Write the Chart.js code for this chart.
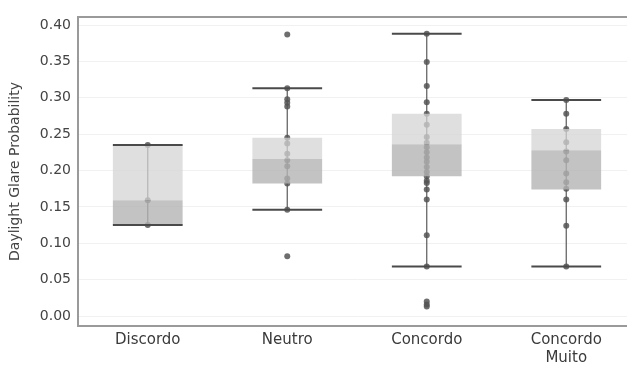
<!DOCTYPE html>
<html>
<head>
<meta charset="utf-8">
<script src="https://cdn.jsdelivr.net/npm/chart.js@4.4.1/dist/chart.umd.min.js"></script>
<style>
    html, body { margin: 0; padding: 0; background: #fff; overflow: hidden; }
    #wrap { position: relative; width: 640px; height: 365px; }
</style>
</head>
<body>
<div id="wrap"><canvas id="chart"></canvas></div>
<script>
// categories and box statistics
const categories = ['Discordo', 'Neutro', 'Concordo', 'Concordo Muito'];
const q1Values     = [0.125, 0.182, 0.192, 0.174];
const medianValues = [0.159, 0.216, 0.236, 0.228];
const q3Values     = [0.235, 0.245, 0.278, 0.257];
const whiskerLow   = [0.125, 0.146, 0.068, 0.068];
const whiskerHigh  = [0.235, 0.313, 0.388, 0.297];

// individual responses per category
const pointsDiscordo = [0.235, 0.159, 0.125];
const pointsNeutro = [0.387, 0.313, 0.298, 0.293, 0.288, 0.245, 0.237, 0.223, 0.214, 0.206, 0.189, 0.182, 0.146, 0.082];
const pointsConcordo = [0.388, 0.349, 0.316, 0.294, 0.278, 0.263, 0.246, 0.238, 0.232, 0.225, 0.218, 0.212, 0.205,
    0.198, 0.192, 0.186, 0.183, 0.174, 0.160, 0.111, 0.068, 0.020, 0.016, 0.013];
const pointsMuito = [0.297, 0.278, 0.257, 0.239, 0.226, 0.214, 0.196, 0.184, 0.175, 0.160, 0.124, 0.068];

const yTicks = [0, 0.05, 0.10, 0.15, 0.20, 0.25, 0.30, 0.35, 0.40];

const labels = categories.map(c => c === 'Concordo Muito' ? ['Concordo', 'Muito'] : c);

// scatter x must be the label itself, category scale ignores numeric x
const allPoints = [pointsDiscordo, pointsNeutro, pointsConcordo, pointsMuito];
const scatterData = [];
allPoints.forEach((arr, i) => arr.forEach(v => scatterData.push({ x: labels[i], y: v })));

// whiskers: vertical stem under boxes, caps over them
const whiskerPlugin = {
    id: 'whiskers',
    beforeDatasetsDraw(chart) {
        const { ctx, scales: { x, y } } = chart;
        ctx.save();
        ctx.strokeStyle = '#5a5a5a';
        ctx.lineWidth = 1.2;
        categories.forEach((c, i) => {
            const px = x.getPixelForValue(i);
            ctx.beginPath();
            ctx.moveTo(px, y.getPixelForValue(whiskerLow[i]));
            ctx.lineTo(px, y.getPixelForValue(whiskerHigh[i]));
            ctx.stroke();
        });
        ctx.restore();
    },
    afterDatasetsDraw(chart) {
        const { ctx, chartArea, scales: { x, y } } = chart;
        const half = (x.getPixelForValue(1) - x.getPixelForValue(0)) * 0.25;
        ctx.save();
        ctx.strokeStyle = '#4a4a4a';
        ctx.lineWidth = 2;
        categories.forEach((c, i) => {
            const px = x.getPixelForValue(i);
            [whiskerLow[i], whiskerHigh[i]].forEach(v => {
                const py = y.getPixelForValue(v);
                ctx.beginPath();
                ctx.moveTo(px - half, py);
                ctx.lineTo(px + half, py);
                ctx.stroke();
            });
        });
        // top frame line
        ctx.strokeStyle = '#9a9a9a';
        ctx.beginPath();
        ctx.moveTo(chartArea.left, chartArea.top);
        ctx.lineTo(chartArea.right, chartArea.top);
        ctx.stroke();
        ctx.restore();
    }
};

new Chart(document.getElementById('chart'), {
    type: 'bar',
    data: {
        labels: labels,
        datasets: [
            {
                label: 'lower',
                data: q1Values.map((q, i) => [q, medianValues[i]]),
                backgroundColor: 'rgba(180,180,180,0.8)',
                borderWidth: 0,
                grouped: false,
                barPercentage: 0.5,
                categoryPercentage: 1.0,
                order: 0
            },
            {
                label: 'upper',
                data: q3Values.map((q, i) => [medianValues[i], q]),
                backgroundColor: 'rgba(212,212,212,0.75)',
                borderWidth: 0,
                grouped: false,
                barPercentage: 0.5,
                categoryPercentage: 1.0,
                order: 0
            },
            {
                type: 'scatter',
                label: 'points',
                data: scatterData,
                backgroundColor: 'rgba(85,85,85,0.85)',
                borderWidth: 0,
                pointRadius: 3,
                order: 1
            }
        ]
    },
    options: {
        responsive: true,
        maintainAspectRatio: false,
        animation: false,
        layout: { padding: { top: 17, right: 2, left: 0, bottom: 0 } },
        plugins: {
            legend: { display: false },
            tooltip: { enabled: false }
        },
        scales: {
            x: {
                type: 'category',
                offset: true,
                grid: { display: false, drawTicks: false },
                border: { color: '#9a9a9a', width: 2 },
                ticks: {
                    color: '#3a3a3a',
                    font: { family: 'DejaVu Sans', size: 15 },
                    padding: 5,
                    maxRotation: 0,
                    autoSkip: false
                },
                afterFit(scale) { scale.height = 39; }
            },
            y: {
                min: -0.0137,
                max: 0.411,
                afterBuildTicks(scale) { scale.ticks = yTicks.map(v => ({ value: v })); },
                grid: { color: '#f1f1f1', drawTicks: false },
                border: { color: '#9a9a9a', width: 2 },
                ticks: {
                    color: '#444',
                    font: { family: 'DejaVu Sans', size: 14 },
                    padding: 7,
                    callback: v => v.toFixed(2)
                },
                title: {
                    display: true,
                    text: 'Daylight Glare Probability',
                    color: '#444',
                    font: { family: 'DejaVu Sans', size: 14 },
                    padding: { top: 7, bottom: 4 }
                },
                afterFit(scale) { scale.width = 78; }
            }
        }
    },
    plugins: [whiskerPlugin]
});
</script>
</body>
</html>
